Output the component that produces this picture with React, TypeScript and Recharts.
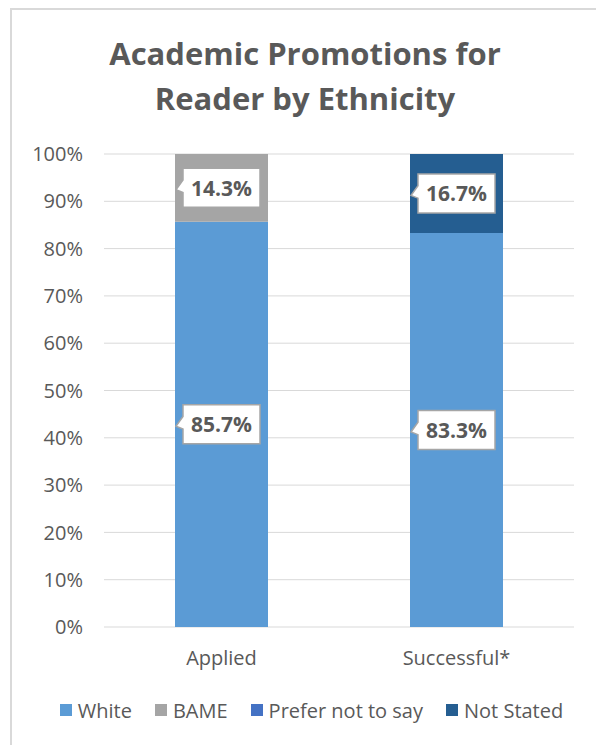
import { BarChart, Bar, XAxis, YAxis, CartesianGrid, Legend, LabelList } from 'recharts';

const categories = ['Applied', 'Successful*'];
const white = [85.7, 83.3];
const bame = [14.3, 0];
const preferNot = [0, 0];
const notStated = [0, 16.7];
const yTicks = [0, 10, 20, 30, 40, 50, 60, 70, 80, 90, 100];

const seriesInfo = [
  { key: 'white', name: 'White', color: '#5B9BD5' },
  { key: 'bame', name: 'BAME', color: '#A5A5A5' },
  { key: 'preferNot', name: 'Prefer not to say', color: '#4472C4' },
  { key: 'notStated', name: 'Not Stated', color: '#255E91' },
];

const chartData = categories.map((cat, i) => ({
  category: cat,
  white: white[i],
  bame: bame[i],
  preferNot: preferNot[i],
  notStated: notStated[i],
}));

const FONT = '"Open Sans", Lato, sans-serif';
const TEXT = '#595959';

// callout-style data label, like Excel's
function CalloutLabel(props: any) {
  const { x, y, width, height, value } = props;
  if (!value) return null;
  const w = 77;
  const h = 39;
  const cx = x + width / 2;
  const cy = y + height / 2;
  const bx = cx - w / 2;
  const by = cy - h / 2;
  const path = `M${bx},${by} L${bx + w},${by} L${bx + w},${by + h} L${bx},${by + h} L${bx},${by + h * 0.62} L${bx - 7},${by + h * 0.55} L${bx},${by + h * 0.3} Z`;
  return (
    <g>
      <path d={path} fill="#fff" stroke="#A6A6A6" strokeWidth={1.5} />
      <text
        x={cx}
        y={cy}
        textAnchor="middle"
        dominantBaseline="central"
        fontFamily={FONT}
        fontWeight="bold"
        fontSize={21}
        fill={TEXT}
      >
        {Number(value).toFixed(1)}%
      </text>
    </g>
  );
}

function LegendContent() {
  return (
    <div
      style={{
        display: 'flex',
        justifyContent: 'center',
        alignItems: 'center',
        height: 24,
        fontFamily: FONT,
        fontSize: 20,
        color: TEXT,
        paddingLeft: 50,
      }}
    >
      {seriesInfo.map((s) => (
        <div key={s.key} style={{ display: 'flex', alignItems: 'center', marginRight: 23 }}>
          <span style={{ width: 12, height: 12, background: s.color, display: 'inline-block', marginRight: 6 }} />
          <span>{s.name}</span>
        </div>
      ))}
    </div>
  );
}

export default function App() {
  return (
    <div style={{ position: 'absolute', left: 0, top: 0, width: 596, height: 745, overflow: 'hidden', background: '#fff' }}>
      <div
        style={{
          position: 'absolute',
          left: 10,
          top: 8,
          width: 700,
          height: 800,
          border: '2px solid #D9D9D9',
          boxSizing: 'border-box',
        }}
      />
      <div
        style={{
          position: 'absolute',
          left: 10,
          top: 31,
          width: 590,
          textAlign: 'center',
          fontFamily: FONT,
          fontWeight: 'bold',
          fontSize: 31,
          lineHeight: '45px',
          color: TEXT,
        }}
      >
        Academic Promotions for
        <br />
        Reader by Ethnicity
      </div>
      <div style={{ position: 'absolute', left: 0, top: 0 }}>
        <BarChart
          width={596}
          height={745}
          data={chartData}
          margin={{ top: 154, right: 22, left: 20, bottom: 44 }}
        >
          <CartesianGrid vertical={false} stroke="#D9D9D9" />
          <XAxis
            dataKey="category"
            axisLine={false}
            tickLine={false}
            tickSize={0}
            tickMargin={24}
            height={50}
            tick={{ fontFamily: FONT, fontSize: 20, fill: TEXT }}
          />
          <YAxis
            domain={[0, 100]}
            ticks={yTicks}
            width={84}
            axisLine={false}
            tickLine={false}
            tickSize={0}
            tickMargin={21}
            tickFormatter={(v) => `${v}%`}
            tick={{ fontFamily: FONT, fontSize: 20, fill: TEXT }}
          />
          <Legend
            verticalAlign="bottom"
            content={LegendContent}
            wrapperStyle={{ top: 698, left: 0, width: 596, bottom: 'auto' }}
          />
          {seriesInfo.map((s) => (
            <Bar key={s.key} dataKey={s.key} name={s.name} stackId="a" fill={s.color} barSize={93} isAnimationActive={false}>
              <LabelList dataKey={s.key} content={CalloutLabel} />
            </Bar>
          ))}
        </BarChart>
      </div>
    </div>
  );
}
